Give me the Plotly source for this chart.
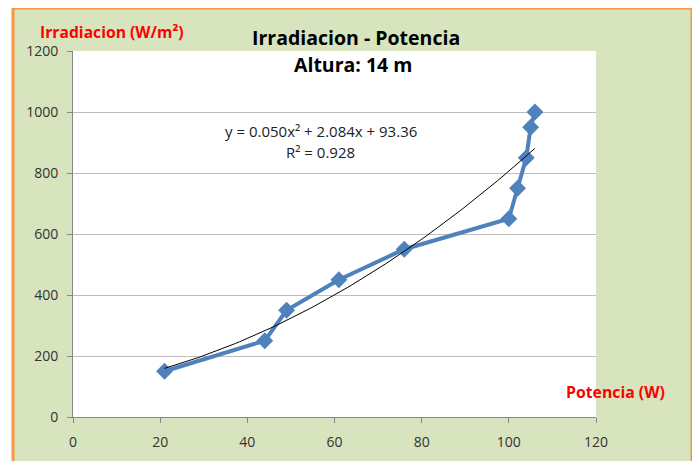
"""Irradiacion vs potencia scatter with quadratic trendline."""
import numpy as np
import plotly.graph_objects as go

# data
potencia = [21, 44, 49, 61, 76, 100, 102, 104, 105, 106]
irradiacion = [150, 250, 350, 450, 550, 650, 750, 850, 950, 1000]
x_ticks = [0, 20, 40, 60, 80, 100, 120]
y_ticks = [0, 200, 400, 600, 800, 1000, 1200]

FONT = "Open Sans"
BLUE = "#4F81BD"
RED = "#FF0000"

# quadratic trendline, the same fit Excel shows
coef = np.polyfit(potencia, irradiacion, 2)
trend_x = np.linspace(min(potencia), max(potencia), 100)
trend_y = np.polyval(coef, trend_x)

fig = go.Figure()

fig.add_trace(go.Scatter(
    x=potencia,
    y=irradiacion,
    mode="lines+markers",
    line=dict(color=BLUE, width=4),
    marker=dict(symbol="diamond", size=13, color=BLUE),
    showlegend=False
))

fig.add_trace(go.Scatter(
    x=trend_x,
    y=trend_y,
    mode="lines",
    line=dict(color="black", width=1),
    showlegend=False
))

# green panel with orange border behind everything, white plot area on top
fig.add_shape(type="rect", xref="paper", yref="paper",
              x0=-0.1147, x1=1.1836, y0=-0.13, y1=1.1175,
              fillcolor="#D7E4BD", line=dict(color="#F79646", width=3),
              layer="below")
fig.add_shape(type="rect", xref="paper", yref="paper",
              x0=0, x1=1, y0=0, y1=1,
              fillcolor="white", line=dict(width=0),
              layer="below")

annotations = [
    dict(text="<b>Irradiacion - Potencia</b>", x=0.541, y=1.038,
         font=dict(size=19.5, color="black")),
    dict(text="<b>Altura: 14 m</b>", x=0.535, y=0.962,
         font=dict(size=19.5, color="black")),
    dict(text="<b>Irradiacion (W/m²)</b>", x=0.0746, y=1.052,
         font=dict(size=15.7, color=RED)),
    dict(text="<b>Potencia (W)</b>", x=1.038, y=0.068,
         font=dict(size=15.8, color=RED)),
    dict(text="y = 0.050x² + 2.084x + 93.36", x=0.474, y=0.781,
         font=dict(size=15, color="#222222")),
    dict(text="R² = 0.928", x=0.474, y=0.724,
         font=dict(size=15, color="#222222")),
]
for a in annotations:
    fig.add_annotation(xref="paper", yref="paper", showarrow=False,
                       xanchor="center", yanchor="middle",
                       font_family=FONT, **a)

fig.update_xaxes(
    range=[0, 120],
    tickvals=x_ticks,
    showgrid=False,
    zeroline=False,
    showline=True,
    linecolor="#868686",
    ticks="outside",
    ticklen=5,
    tickcolor="#868686",
    ticklabelstandoff=7,
    tickfont=dict(family=FONT, size=14, color="#333333"),
)
fig.update_yaxes(
    range=[0, 1200],
    tickvals=y_ticks,
    showgrid=True,
    gridcolor="#BEBEBE",
    gridwidth=1,
    zeroline=False,
    showline=True,
    linecolor="#868686",
    ticks="outside",
    ticklen=5,
    tickcolor="#868686",
    ticklabelstandoff=6,
    tickfont=dict(family=FONT, size=14, color="#333333"),
)

# page body adds an 8px offset, so margins are set for that
fig.update_layout(
    width=700,
    height=461,
    margin=dict(l=65, r=112, t=43, b=52),
    paper_bgcolor="white",
    plot_bgcolor="rgba(0,0,0,0)",
    font=dict(family=FONT),
)

fig.write_html("out.html")
